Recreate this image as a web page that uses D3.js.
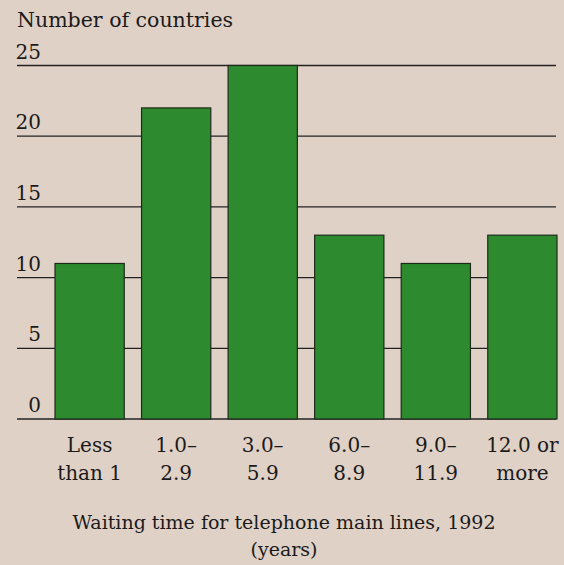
<!DOCTYPE html>
<html>
<head>
<meta charset="utf-8">
<script src="https://cdn.jsdelivr.net/npm/d3@7"></script>
<style>
  html, body { margin: 0; padding: 0; background: #e0d1c6; }
  svg { display: block; }
  text { font-family: "DejaVu Serif", "Liberation Serif", serif; fill: #1a1a1a; }
</style>
</head>
<body>
<svg id="chart"></svg>
<script>
// data
const categories = ["Less|than 1", "1.0–|2.9", "3.0–|5.9", "6.0–|8.9", "9.0–|11.9", "12.0 or|more"];
const counts = [11, 22, 25, 13, 11, 13];
const yTicks = [0, 5, 10, 15, 20, 25];

const width = 564, height = 565;
const fs = "20px";
const svg = d3.select("#chart").attr("width", width).attr("height", height);

const x = d3.scaleBand().domain(categories).range([55, 557]).paddingInner(0.2).paddingOuter(0);
const y = d3.scaleLinear().domain([0, 25]).range([419, 65.5]);

// gridlines behind bars
svg.append("g")
  .selectAll("line")
  .data(yTicks)
  .join("line")
  .attr("x1", 17)
  .attr("x2", 556)
  .attr("y1", d => y(d))
  .attr("y2", d => y(d))
  .attr("stroke", "#222")
  .attr("stroke-width", 1.3);

// tick labels sit above their lines
svg.append("g")
  .selectAll("text")
  .data(yTicks)
  .join("text")
  .attr("x", 41)
  .attr("y", d => y(d) - 7)
  .attr("text-anchor", "end")
  .style("font-size", fs)
  .text(d => d);

svg.append("text")
  .attr("x", 17)
  .attr("y", 27)
  .style("font-size", "20.5px")
  .text("Number of countries");

svg.append("g")
  .selectAll("rect")
  .data(counts)
  .join("rect")
  .attr("x", (d, i) => x(categories[i]))
  .attr("y", d => y(d))
  .attr("width", x.bandwidth())
  .attr("height", d => y(0) - y(d))
  .attr("fill", "#2e8a2f")
  .attr("stroke", "#1c2a1a")
  .attr("stroke-width", 1.2);

// two-line category labels
const lab = svg.append("g")
  .selectAll("text")
  .data(categories)
  .join("text")
  .attr("text-anchor", "middle")
  .style("font-size", fs);

lab.selectAll("tspan")
  .data(d => d.split("|").map(s => ({ s, c: d })))
  .join("tspan")
  .attr("x", d => x(d.c) + x.bandwidth() / 2)
  .attr("y", (d, i) => 452 + i * 28)
  .text(d => d.s);

svg.append("text")
  .attr("x", 284)
  .attr("y", 529)
  .attr("text-anchor", "middle")
  .style("font-size", "19px")
  .text("Waiting time for telephone main lines, 1992");

svg.append("text")
  .attr("x", 284)
  .attr("y", 556)
  .attr("text-anchor", "middle")
  .style("font-size", "19px")
  .text("(years)");
</script>
</body>
</html>
